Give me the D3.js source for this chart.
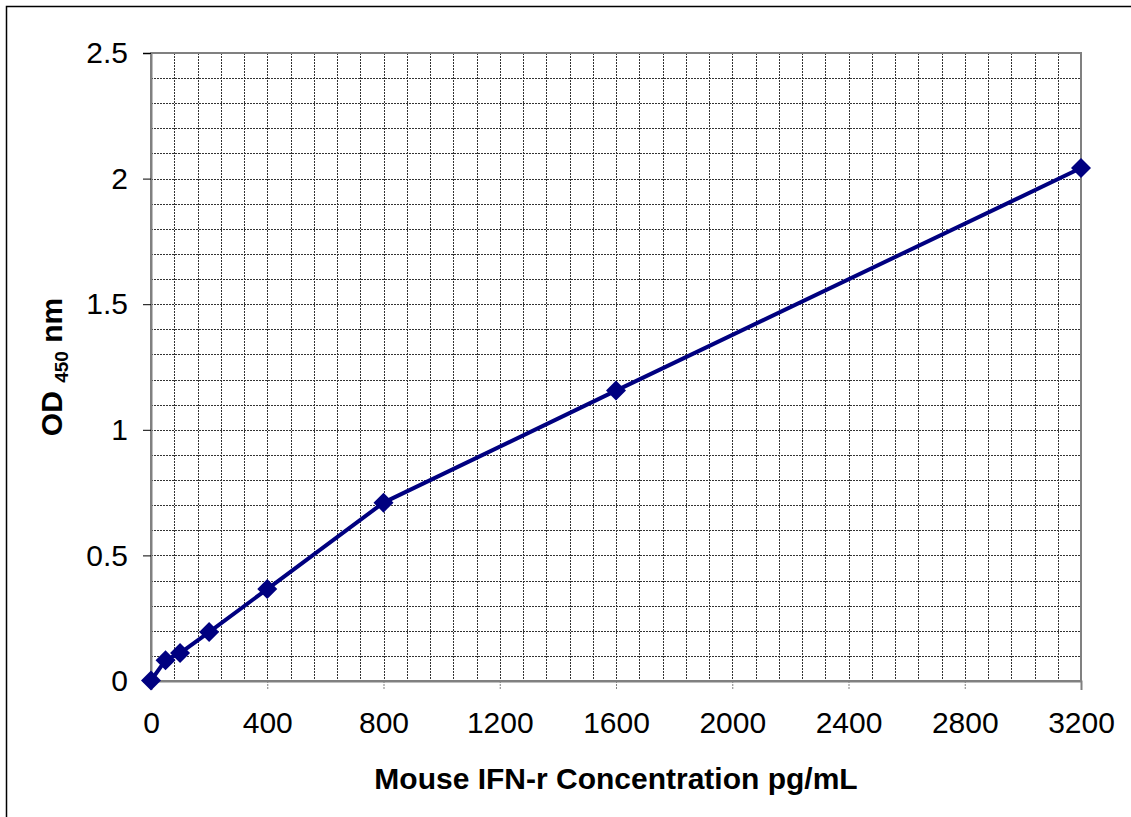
<!DOCTYPE html>
<html><head><meta charset="utf-8">
<script src="https://cdn.jsdelivr.net/npm/d3@7"></script>
<style>body{margin:0;background:#fff;} svg{display:block;}</style>
</head><body>
<script>
const concentrations = [0, 50, 100, 200, 400, 800, 1600, 3200];
const odValues = [0.002, 0.083, 0.111, 0.195, 0.366, 0.71, 1.156, 2.042];
const xTicks = [0, 400, 800, 1200, 1600, 2000, 2400, 2800, 3200];
const yTicks = [0, 0.5, 1, 1.5, 2, 2.5];
const xTitle = "Mouse IFN-r Concentration pg/mL";

const W = 1131, H = 817;
const m = {left: 151, right: 1081, top: 53, bottom: 681};
const svg = d3.select("body").append("svg").attr("width", W).attr("height", H);
svg.append("rect").attr("x", 6.5).attr("y", 6.5).attr("width", W + 10).attr("height", H + 10)
  .attr("fill", "#fff").attr("stroke", "#000").attr("stroke-width", 1.5);

const x = d3.scaleLinear().domain([0, 3200]).range([m.left, m.right]);
const y = d3.scaleLinear().domain([0, 2.5]).range([m.bottom, m.top]);

const font = "'Liberation Sans', Arial, sans-serif";
// grid
const gx = d3.range(80, 3200, 80), gy = d3.range(1, 25).map(d => d / 10);
svg.append("g").selectAll("line").data(gx).join("line")
  .attr("x1", d => Math.round(x(d)) + 0.5).attr("x2", d => Math.round(x(d)) + 0.5)
  .attr("y1", m.top).attr("y2", m.bottom)
  .attr("stroke", "#333").attr("stroke-width", 1).attr("stroke-dasharray", "2,1");
svg.append("g").selectAll("line").data(gy).join("line")
  .attr("y1", d => Math.round(y(d)) + 0.5).attr("y2", d => Math.round(y(d)) + 0.5)
  .attr("x1", m.left).attr("x2", m.right)
  .attr("stroke", "#333").attr("stroke-width", 1).attr("stroke-dasharray", "2,1");

// plot border
svg.append("rect").attr("x", m.left).attr("y", m.top).attr("width", m.right - m.left).attr("height", m.bottom - m.top)
  .attr("fill", "none").attr("stroke", "#808080").attr("stroke-width", 2);

// axes
const xAxis = svg.append("g").attr("transform", `translate(0,${m.bottom})`)
  .call(d3.axisBottom(x).tickValues(xTicks).tickSize(9).tickPadding(22).tickFormat(d3.format("d")));
const yAxis = svg.append("g").attr("transform", `translate(${m.left},0)`)
  .call(d3.axisLeft(y).tickValues(yTicks).tickSize(8).tickPadding(15).tickFormat(d => d));
[xAxis, yAxis].forEach(a => {
  a.select(".domain").attr("stroke", "#808080").attr("stroke-width", 2);
  a.selectAll(".tick line").attr("stroke", "#808080").attr("stroke-width", 1);
  a.selectAll("text").attr("font-family", font).attr("font-size", 30).attr("fill", "#000");
});
xAxis.selectAll(".tick line").attr("stroke-dasharray", "2,1");
yAxis.selectAll(".tick line").attr("stroke", "#000");

// titles
svg.append("text").attr("x", (m.left + m.right) / 2).attr("y", 789).attr("text-anchor", "middle")
  .attr("font-family", font).attr("font-weight", "bold").attr("font-size", 30).text(xTitle);
const yl = svg.append("text").attr("transform", `translate(62,${(m.top + m.bottom) / 2}) rotate(-90)`)
  .attr("text-anchor", "middle").attr("font-family", font).attr("font-weight", "bold").attr("font-size", 30);
yl.append("tspan").text("OD ");
yl.append("tspan").attr("font-size", 19).attr("dy", 6).text("450");
yl.append("tspan").attr("dy", -6).text(" nm");

// line + markers
const data = concentrations.map((c, i) => ({c, v: odValues[i]}));
svg.append("path").datum(data).attr("fill", "none").attr("stroke", "#000080").attr("stroke-width", 4)
  .attr("stroke-linejoin", "round")
  .attr("d", d3.line().x(d => x(d.c)).y(d => y(d.v)));
svg.append("g").selectAll("path").data(data).join("path")
  .attr("d", d3.symbol(d3.symbolSquare, 200))
  .attr("transform", d => `translate(${x(d.c)},${y(d.v)}) rotate(45)`)
  .attr("fill", "#000080");
</script>
</body></html>
